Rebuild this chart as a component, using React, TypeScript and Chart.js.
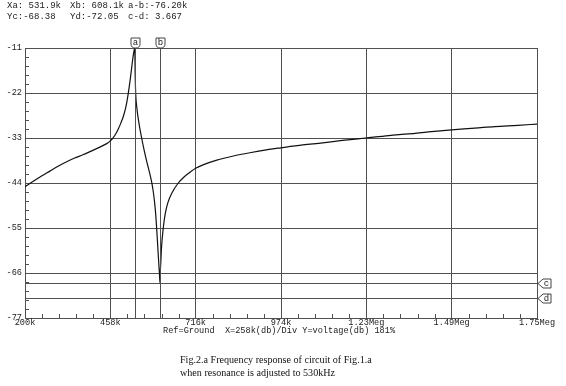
import React, { useEffect, useRef } from "react";
import { Chart, registerables } from "chart.js";

Chart.register(...registerables);

// ---- data ----
const freqK = [
  200, 225, 250, 275, 300, 326, 350, 375, 400, 425, 437, 450, 458, 467, 475, 482, 490,
  497, 505, 512, 518, 523, 527, 531.9,
  533, 534.6, 538, 545, 552.7, 560, 568, 576, 583, 589, 594, 598, 601, 604, 606.5, 608.1,
  609, 610.5, 613, 618, 624, 632, 645, 663.5, 680, 700, 716, 740, 780, 830, 880, 930,
  974, 1040, 1100, 1160, 1230, 1300, 1360, 1420, 1490, 1560, 1620, 1690, 1748,
];
const voltageDb = [
  -44.9, -43.6, -42.3, -41.1, -39.9, -38.8, -37.9, -37.1, -36.2, -35.3, -34.8, -34.2,
  -33.7, -32.9, -31.9, -30.8, -29.3, -27.8, -25.4, -22.2, -18.8, -15.5, -13.0, -11.0,
  -17.0, -22.0, -25.5, -29.6, -33.0, -35.9, -38.7, -41.3, -43.8, -46.8, -50.5, -55.0,
  -59.0, -63.0, -66.2, -68.4,
  -66.0, -63.5, -59.5, -55.0, -51.5, -48.8, -46.3, -44.0, -42.6, -41.3, -40.4, -39.5,
  -38.4, -37.4, -36.6, -35.9, -35.4, -34.7, -34.2, -33.6, -33.0, -32.4, -32.0, -31.5,
  -31.0, -30.6, -30.2, -29.9, -29.6,
];
const xTickValues = [200, 458, 716, 974, 1232, 1490, 1748];
const xTickLabels = ["200k", "458k", "716k", "974k", "1.23Meg", "1.49Meg", "1.75Meg"];
const yTickValues = [-77, -66, -55, -44, -33, -22, -11];
const yTickLabels = ["-77", "-66", "-55", "-44", "-33", "-22", "-11"];
const markerX = [
  { name: "a", value: 531.9 },
  { name: "b", value: 608.1 },
];
const markerY = [
  { name: "c", value: -68.38 },
  { name: "d", value: -72.05 },
];
const headerRow1 = ["Xa: 531.9k", "Xb: 608.1k", "a-b:-76.20k"];
const headerRow2 = ["Yc:-68.38", "Yd:-72.05", "c-d: 3.667"];
const footerText = "Ref=Ground  X=258k(db)/Div Y=voltage(db) 181%";
const captionLines = [
  "Fig.2.a Frequency response of circuit of Fig.1.a",
  "when resonance is adjusted to 530kHz",
];

const GRID = "#505050";
const MONO = "'Liberation Mono', 'DejaVu Sans Mono', monospace";

const overlayPlugin = {
  id: "overlay",
  afterDatasetsDraw(chart: any) {
    const { ctx, chartArea, scales } = chart;
    const xs = scales.x;
    const ys = scales.y;
    ctx.save();
    ctx.strokeStyle = GRID;
    ctx.lineWidth = 1;
    // minor ticks y
    for (let i = 0; i <= 30; i++) {
      if (i % 5 === 0) continue;
      const v = -77 + i * 2.2;
      const py = Math.round(ys.getPixelForValue(v)) + 0.5;
      ctx.beginPath();
      ctx.moveTo(chartArea.left, py);
      ctx.lineTo(chartArea.left + 4, py);
      ctx.stroke();
    }
    // minor ticks x
    for (let i = 0; i <= 30; i++) {
      if (i % 5 === 0) continue;
      const v = 200 + i * 51.6;
      const px = Math.round(xs.getPixelForValue(v)) + 0.5;
      ctx.beginPath();
      ctx.moveTo(px, chartArea.bottom);
      ctx.lineTo(px, chartArea.bottom - 4);
      ctx.stroke();
    }
    // marker lines
    ctx.font = `9px ${MONO}`;
    ctx.textAlign = "center";
    ctx.textBaseline = "middle";
    for (const m of markerX) {
      const px = Math.round(xs.getPixelForValue(m.value)) + 0.5;
      ctx.strokeStyle = GRID;
      ctx.beginPath();
      ctx.moveTo(px, chartArea.top);
      ctx.lineTo(px, chartArea.bottom);
      ctx.stroke();
      const t = chartArea.top;
      ctx.fillStyle = "#fff";
      ctx.strokeStyle = "#444";
      ctx.beginPath();
      ctx.moveTo(px - 4.5, t - 10);
      ctx.lineTo(px + 4.5, t - 10);
      ctx.lineTo(px + 4.5, t - 4);
      ctx.quadraticCurveTo(px + 4.5, t, px, t);
      ctx.quadraticCurveTo(px - 4.5, t, px - 4.5, t - 4);
      ctx.closePath();
      ctx.fill();
      ctx.stroke();
      ctx.fillStyle = "#222";
      ctx.fillText(m.name, px, t - 5);
    }
    for (const m of markerY) {
      const py = Math.round(ys.getPixelForValue(m.value)) + 0.5;
      ctx.strokeStyle = GRID;
      ctx.beginPath();
      ctx.moveTo(chartArea.left, py);
      ctx.lineTo(chartArea.right, py);
      ctx.stroke();
      const r = chartArea.right + 1;
      ctx.fillStyle = "#fff";
      ctx.strokeStyle = "#444";
      ctx.beginPath();
      ctx.moveTo(r, py);
      ctx.lineTo(r + 5, py - 4.5);
      ctx.lineTo(r + 13, py - 4.5);
      ctx.lineTo(r + 13, py + 4.5);
      ctx.lineTo(r + 5, py + 4.5);
      ctx.closePath();
      ctx.fill();
      ctx.stroke();
      ctx.fillStyle = "#222";
      ctx.fillText(m.name, r + 8.5, py);
    }
    ctx.restore();
  },
};

export default function App() {
  const canvasRef = useRef<HTMLCanvasElement | null>(null);

  useEffect(() => {
    const canvas = canvasRef.current;
    if (!canvas) return;
    const points = freqK.map((f, i) => ({ x: f, y: voltageDb[i] }));
    const chart = new Chart(canvas, {
      type: "line",
      data: {
        datasets: [
          {
            data: points,
            borderColor: "#111",
            borderWidth: 1.2,
            pointRadius: 0,
            fill: false,
            cubicInterpolationMode: "monotone",
          },
        ],
      },
      options: {
        animation: false,
        responsive: false,
        maintainAspectRatio: false,
        clip: 0,
        layout: { padding: { left: 0, top: 48, right: 29, bottom: 54 } },
        plugins: { legend: { display: false }, tooltip: { enabled: false } },
        scales: {
          x: {
            type: "linear",
            min: 200,
            max: 1748,
            afterBuildTicks: (s: any) => {
              s.ticks = xTickValues.map((v) => ({ value: v }));
            },
            afterFit: (s: any) => {
              s.height = 14;
            },
            ticks: {
              autoSkip: false,
              maxRotation: 0,
              padding: 0,
              color: "#222",
              font: { family: MONO, size: 8.6 },
              callback: (_v: any, i: number) => xTickLabels[i],
            },
            grid: { color: GRID, lineWidth: 1, drawTicks: false },
            border: { color: GRID },
          },
          y: {
            type: "linear",
            min: -77,
            max: -11,
            afterBuildTicks: (s: any) => {
              s.ticks = yTickValues.map((v) => ({ value: v }));
            },
            afterFit: (s: any) => {
              s.width = 25;
            },
            ticks: {
              autoSkip: false,
              padding: 3,
              color: "#222",
              font: { family: MONO, size: 8.6 },
              callback: (_v: any, i: number) => yTickLabels[i],
            },
            grid: { color: GRID, lineWidth: 1, drawTicks: false },
            border: { color: GRID },
          },
        },
      },
      plugins: [overlayPlugin],
    } as any);
    return () => chart.destroy();
  }, []);

  const mono: React.CSSProperties = {
    position: "absolute",
    fontFamily: MONO,
    fontSize: "9px",
    lineHeight: "11px",
    color: "#222",
    whiteSpace: "pre",
  };
  const cols = [7, 70, 128];

  return (
    <div style={{ position: "absolute", left: 0, top: 0, width: 566, height: 386, background: "#fff", overflow: "hidden" }}>
      <canvas ref={canvasRef} width={566} height={386} style={{ position: "absolute", left: 0, top: 0 }} />
      {headerRow1.map((t, i) => (
        <div key={"r1" + i} style={{ ...mono, left: cols[i], top: 1 }}>{t}</div>
      ))}
      {headerRow2.map((t, i) => (
        <div key={"r2" + i} style={{ ...mono, left: cols[i], top: 12 }}>{t}</div>
      ))}
      <div style={{ ...mono, fontSize: "8.6px", left: 163, top: 326 }}>{footerText}</div>
      {captionLines.map((t, i) => (
        <div
          key={"c" + i}
          style={{
            position: "absolute",
            left: 180,
            top: 353 + i * 13,
            fontFamily: "'Liberation Serif', serif",
            fontSize: "10.1px",
            lineHeight: "13px",
            color: "#111",
            whiteSpace: "pre",
          }}
        >
          {t}
        </div>
      ))}
    </div>
  );
}
